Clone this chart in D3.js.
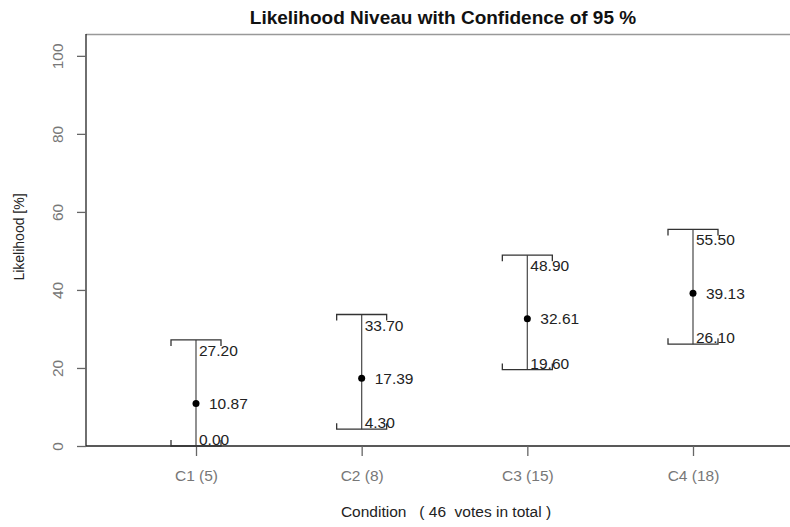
<!doctype html>
<html>
<head>
<meta charset="utf-8">
<script src="https://cdnjs.cloudflare.com/ajax/libs/d3/7.8.5/d3.min.js"></script>
<style>
  body { margin: 0; background: #fff; }
  svg { font-family: "Liberation Sans", Arial, sans-serif; display: block; }
</style>
</head>
<body>
<script>
const categories = ["C1 (5)", "C2 (8)", "C3 (15)", "C4 (18)"];
const means = [10.87, 17.39, 32.61, 39.13];
const lower = [0.00, 4.30, 19.60, 26.10];
const upper = [27.20, 33.70, 48.90, 55.50];
const yTicks = [0, 20, 40, 60, 80, 100];
const totalVotes = 46;

const width = 790, height = 527;
const plotLeft = 86, plotTop = 34, plotBottom = 446;
const fs = 15.5;

const svg = d3.select("body").append("svg")
  .attr("width", width).attr("height", height);

const x = d3.scaleLinear().domain([0, 3]).range([196, 693]);
const y = d3.scaleLinear().domain([0, 105.6]).range([plotBottom, plotTop]);

// plot box (top edge)
svg.append("line").attr("x1", plotLeft).attr("x2", width + 10)
  .attr("y1", plotTop + 0.5).attr("y2", plotTop + 0.5)
  .attr("stroke", "#999").attr("stroke-width", 1.3);

// y axis
const yAxis = svg.append("g").attr("transform", "translate(" + plotLeft + ",0)")
  .call(d3.axisLeft(y).tickValues(yTicks).tickSize(9).tickPadding(14));
yAxis.select(".domain").attr("stroke", "#222").attr("stroke-width", 1.3)
  .attr("d", "M0," + plotTop + "V" + plotBottom);
yAxis.selectAll(".tick line").attr("stroke", "#666").attr("stroke-width", 1.3);
yAxis.selectAll(".tick text")
  .attr("fill", "#777").attr("font-size", fs)
  .attr("text-anchor", "middle")
  .attr("x", -28).attr("y", 0).attr("dy", "0.35em")
  .attr("transform", "rotate(-90,-28,0)");

// x axis
const xAxis = svg.append("g").attr("transform", "translate(0," + plotBottom + ")")
  .call(d3.axisBottom(x).tickValues([0, 1, 2, 3]).tickSize(10).tickPadding(14)
    .tickFormat(function(i) { return categories[i]; }));
xAxis.select(".domain").attr("stroke", "#222").attr("stroke-width", 1.3)
  .attr("d", "M" + plotLeft + ",0H" + (width + 10));
xAxis.selectAll(".tick line").attr("stroke", "#666").attr("stroke-width", 1.3);
xAxis.selectAll(".tick text").attr("fill", "#777").attr("font-size", fs);

// titles
svg.append("text").attr("x", 443).attr("y", 24).attr("text-anchor", "middle")
  .attr("font-weight", "bold").attr("font-size", 19).attr("fill", "#111")
  .text("Likelihood Niveau with Confidence of 95 %");
svg.append("text").attr("x", 446).attr("y", 517).attr("text-anchor", "middle")
  .attr("font-size", fs).attr("fill", "#222").attr("xml:space", "preserve")
  .text("Condition   ( " + totalVotes + "  votes in total )");
svg.append("text").attr("transform", "translate(24,237) rotate(-90)")
  .attr("text-anchor", "middle").attr("font-size", 14).attr("fill", "#222")
  .text("Likelihood [%]");

// error bars
const data = categories.map(function(c, i) {
  return { i: i, mean: means[i], lo: lower[i], hi: upper[i] };
});
const cw = 25, tk = 6;
const bars = svg.append("g").selectAll("g.bar").data(data).enter()
  .append("g").attr("class", "bar");

bars.append("line")
  .attr("x1", d => x(d.i)).attr("x2", d => x(d.i))
  .attr("y1", d => y(d.lo)).attr("y2", d => y(d.hi))
  .attr("stroke", "#555").attr("stroke-width", 1.3);

// upper cap, bracket opening downward
bars.append("path")
  .attr("d", d => "M" + (x(d.i) - cw) + "," + (y(d.hi) + tk) + "V" + y(d.hi) +
    "H" + (x(d.i) + cw) + "V" + (y(d.hi) + tk))
  .attr("fill", "none").attr("stroke", "#333").attr("stroke-width", 1.3);
// lower cap, bracket opening upward
bars.append("path")
  .attr("d", d => "M" + (x(d.i) - cw) + "," + (y(d.lo) - tk) + "V" + y(d.lo) +
    "H" + (x(d.i) + cw) + "V" + (y(d.lo) - tk))
  .attr("fill", "none").attr("stroke", "#333").attr("stroke-width", 1.3);

bars.append("circle")
  .attr("cx", d => x(d.i)).attr("cy", d => y(d.mean)).attr("r", 3.5)
  .attr("fill", "#000");

bars.append("text")
  .attr("x", d => x(d.i) + 13).attr("y", d => y(d.mean)).attr("dy", "0.36em")
  .attr("font-size", fs).attr("fill", "#222")
  .text(d => d.mean.toFixed(2));
bars.append("text")
  .attr("x", d => x(d.i) + 3).attr("y", d => y(d.hi) + 16)
  .attr("font-size", fs).attr("fill", "#222")
  .text(d => d.hi.toFixed(2));
bars.append("text")
  .attr("x", d => x(d.i) + 3).attr("y", d => y(d.lo) - 1)
  .attr("font-size", fs).attr("fill", "#222")
  .text(d => d.lo.toFixed(2));
</script>
</body>
</html>
